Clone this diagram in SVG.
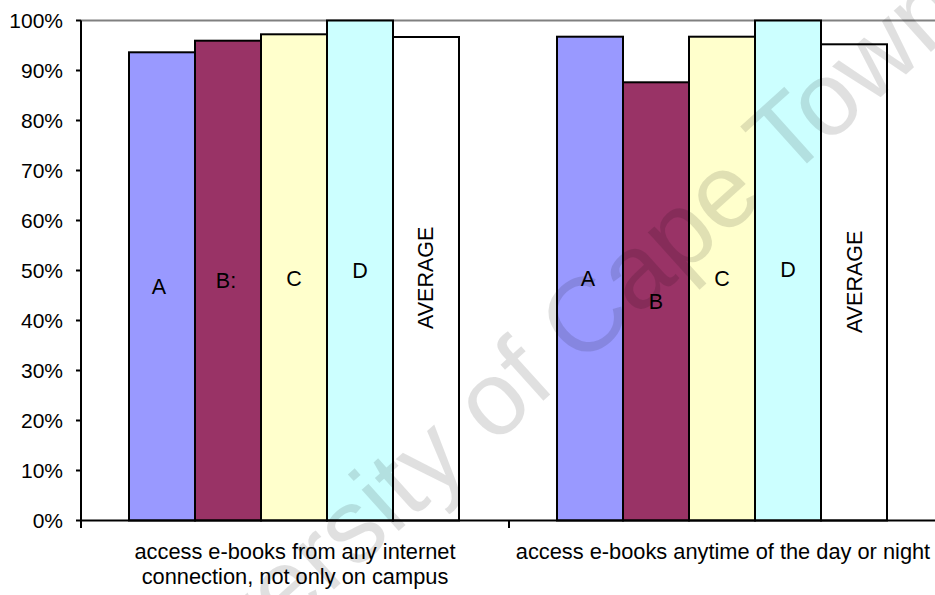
<svg xmlns="http://www.w3.org/2000/svg" width="935" height="595" viewBox="0 0 935 595">
<style>
text{font-family:"Liberation Sans",Arial,sans-serif;fill:#000;}
.yl{font-size:21px;text-anchor:end;}
.bl{font-size:21.5px;text-anchor:middle;}
.vl{font-size:21.5px;text-anchor:start;}
.cl{font-size:21.8px;text-anchor:middle;}
.bar{stroke:#000;stroke-width:2;}
.a{fill:#9999FF;}.b{fill:#993366;}.c{fill:#FFFFCC;}.d{fill:#CCFFFF;}.v{fill:#FFFFFF;}
.ax{stroke:#000;stroke-width:2;fill:none;}
.wm{font-size:105px;fill:#000;fill-opacity:0.12;}
</style>
<rect width="935" height="595" fill="#fff"/>
<line x1="81" y1="20.5" x2="935" y2="20.5" stroke="#808080" stroke-width="2"/>
<g id="series1">
<g id="g1-A"><rect class="bar a" x="129" y="52.3" width="66" height="468.2"/><text class="bl" x="159" y="294">A</text></g>
<g id="g1-B"><rect class="bar b" x="195" y="40.7" width="66" height="479.8"/><text class="bl" x="226" y="288">B:</text></g>
<g id="g1-C"><rect class="bar c" x="261" y="34.3" width="66" height="486.2"/><text class="bl" x="294" y="286">C</text></g>
<g id="g1-D"><rect class="bar d" x="327" y="20.5" width="66" height="500"/><text class="bl" x="360" y="278">D</text></g>
<g id="g1-AVG"><rect class="bar v" x="393" y="37" width="66" height="483.5"/><text class="vl" x="433" y="329" transform="rotate(-90 433 329)">AVERAGE</text></g>
</g>
<g id="series2">
<g id="g2-A"><rect class="bar a" x="557" y="36.7" width="66" height="483.8"/><text class="bl" x="588" y="286">A</text></g>
<g id="g2-B"><rect class="bar b" x="623" y="82.3" width="66" height="438.2"/><text class="bl" x="656" y="309">B</text></g>
<g id="g2-C"><rect class="bar c" x="689" y="36.7" width="66" height="483.8"/><text class="bl" x="722" y="286">C</text></g>
<g id="g2-D"><rect class="bar d" x="755" y="20.5" width="66" height="500"/><text class="bl" x="788" y="277">D</text></g>
<g id="g2-AVG"><rect class="bar v" x="821" y="44.3" width="66" height="476.2"/><text class="vl" x="862" y="333" transform="rotate(-90 862 333)">AVERAGE</text></g>
</g>
<g id="connectors">
<path class="ax" d="M81 20.5V528M76 520.5H935M509 520.5V528M76 20.5H81M76 70.5H81M76 120.5H81M76 170.5H81M76 220.5H81M76 270.5H81M76 320.5H81M76 370.5H81M76 420.5H81M76 470.5H81"/>
</g>
<g id="y-axis-labels">
<text class="yl" x="63" y="28">100%</text>
<text class="yl" x="63" y="78">90%</text>
<text class="yl" x="63" y="128">80%</text>
<text class="yl" x="63" y="178">70%</text>
<text class="yl" x="63" y="228">60%</text>
<text class="yl" x="63" y="278">50%</text>
<text class="yl" x="63" y="328">40%</text>
<text class="yl" x="63" y="378">30%</text>
<text class="yl" x="63" y="428">20%</text>
<text class="yl" x="63" y="478">10%</text>
<text class="yl" x="63" y="528">0%</text>
</g>
<g id="category-labels">
<text class="cl" x="295" y="559">access e-books from any internet</text>
<text class="cl" x="295" y="584">connection, not only on campus</text>
<text class="cl" x="723" y="559">access e-books anytime of the day or night</text>
</g>
<text class="wm" x="129" y="774" transform="rotate(-42 129 774)">University of Cape Town</text>
</svg>
